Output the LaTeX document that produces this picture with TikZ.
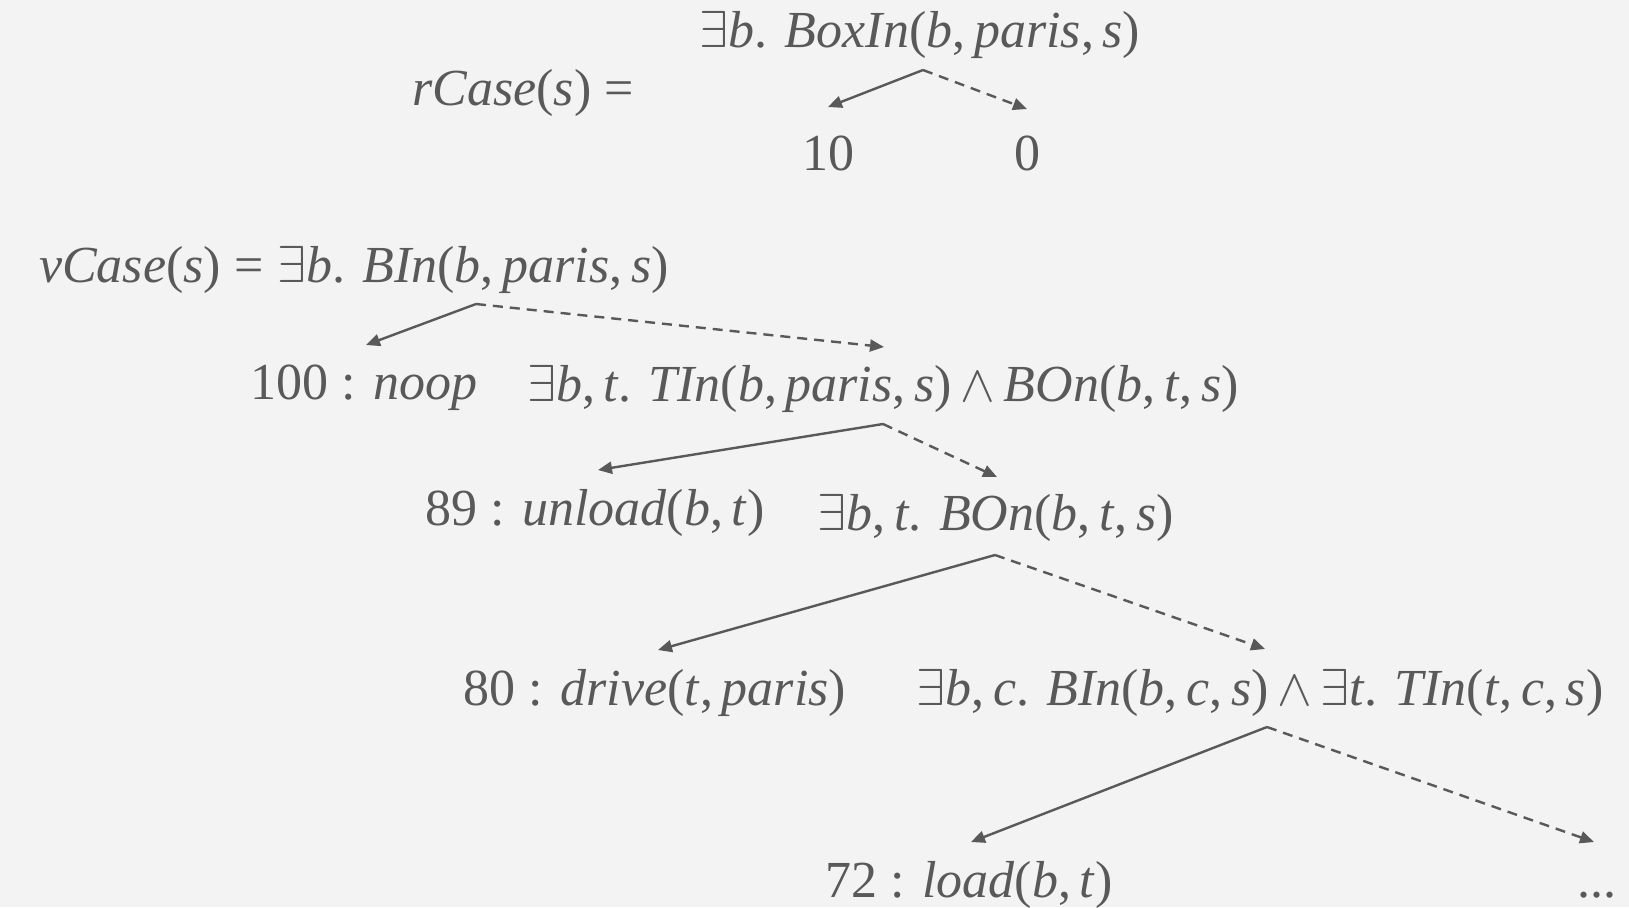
\RequirePackage{fix-cm}
\documentclass[tikz,border=0pt]{standalone}
\usepackage{fontspec}
\setmainfont{Liberation Serif}
\usetikzlibrary{arrows.meta,calc}
\definecolor{ink}{HTML}{595959}
\definecolor{paper}{HTML}{F3F3F3}
% italic identifiers, quantifier and conjunction
\newcommand\vt[1]{\textit{#1}}
\newcommand\qex{$\exists$}
\newcommand\qand{\,$\wedge$\,}
\newcommand\cs{,\,}
\begin{document}
\begin{tikzpicture}[x=0.5pt,y=-0.5pt,
  every node/.style={text=ink,inner sep=0pt,font=\fontsize{26}{32}\selectfont},
  truebranch/.style={draw=ink,line width=1.2pt,-{Triangle[length=7pt,width=6pt]}},
  falsebranch/.style={truebranch,dash pattern=on 5pt off 3.5pt}]
  % canvas
  \fill[paper] (0,0) rectangle (1629,907);
  \useasboundingbox (0,0) rectangle (1629,907);

  % reward case tree
  \node (rc) at (523,93) {\vt{rCase}(\vt{s}) =};
  \node (r1) at (920,35) {\qex\vt{b}. \vt{BoxIn}(\vt{b}\cs\vt{paris}\cs\vt{s})};
  \node (r10) at (828,153) {10};
  \node (r0) at (1027,153) {0};
  \coordinate (rs) at ($(r1.center)+(3,35)$);
  \draw[truebranch] (rs) -- ($(r10.center)+(0,-46)$);
  \draw[falsebranch] (rs) -- ($(r0.center)+(0,-44)$);

  % value case tree
  \node (v1) at (473,270) {\qex\vt{b}. \vt{BIn}(\vt{b}\cs\vt{paris}\cs\vt{s})};
  \node[anchor=east] (vc) at ($(v1.west)+(-13,0)$) {\vt{vCase}(\vt{s}) =};
  \node (noop) at (364,388) {100 : \vt{noop}};
  \node (v2) at (883,389) {\qex\vt{b}\cs\vt{t}. \vt{TIn}(\vt{b}\cs\vt{paris}\cs\vt{s})\qand\vt{BOn}(\vt{b}\cs\vt{t}\cs\vt{s})};
  \node (unload) at (595,513) {89 : \vt{unload}(\vt{b}\cs\vt{t})};
  \node (v3) at (996,518) {\qex\vt{b}\cs\vt{t}. \vt{BOn}(\vt{b}\cs\vt{t}\cs\vt{s})};
  \node (drive) at (655,693) {80 : \vt{drive}(\vt{t}\cs\vt{paris})};
  \node (v4) at (1260,693) {\qex\vt{b}\cs\vt{c}. \vt{BIn}(\vt{b}\cs\vt{c}\cs\vt{s})\qand\qex\vt{t}. \vt{TIn}(\vt{t}\cs\vt{c}\cs\vt{s})};
  \node (load) at (969,885) {72 : \vt{load}(\vt{b}\cs\vt{t})};
  \node (more) at (1597,885) {\vphantom{()}...};

  \coordinate (s1) at ($(v1.center)+(3,34)$);
  \draw[truebranch] (s1) -- ($(noop.center)+(2,-43)$);
  \draw[falsebranch] (s1) -- ($(v2.center)+(1,-42)$);
  \coordinate (s2) at ($(v2.center)+(0,35)$);
  \draw[truebranch] (s2) -- ($(unload.center)+(3,-43)$);
  \draw[falsebranch] (s2) -- ($(v3.center)+(1,-41)$);
  \coordinate (s3) at ($(v3.center)+(-1,37)$);
  \draw[truebranch] (s3) -- ($(drive.center)+(3,-43)$);
  \draw[falsebranch] (s3) -- ($(v4.center)+(5,-44)$);
  \coordinate (s4) at ($(v4.center)+(7,34)$);
  \draw[truebranch] (s4) -- ($(load.center)+(2,-43)$);
  \draw[falsebranch] (s4) -- ($(more.center)+(-3,-43)$);
\end{tikzpicture}
\end{document}
